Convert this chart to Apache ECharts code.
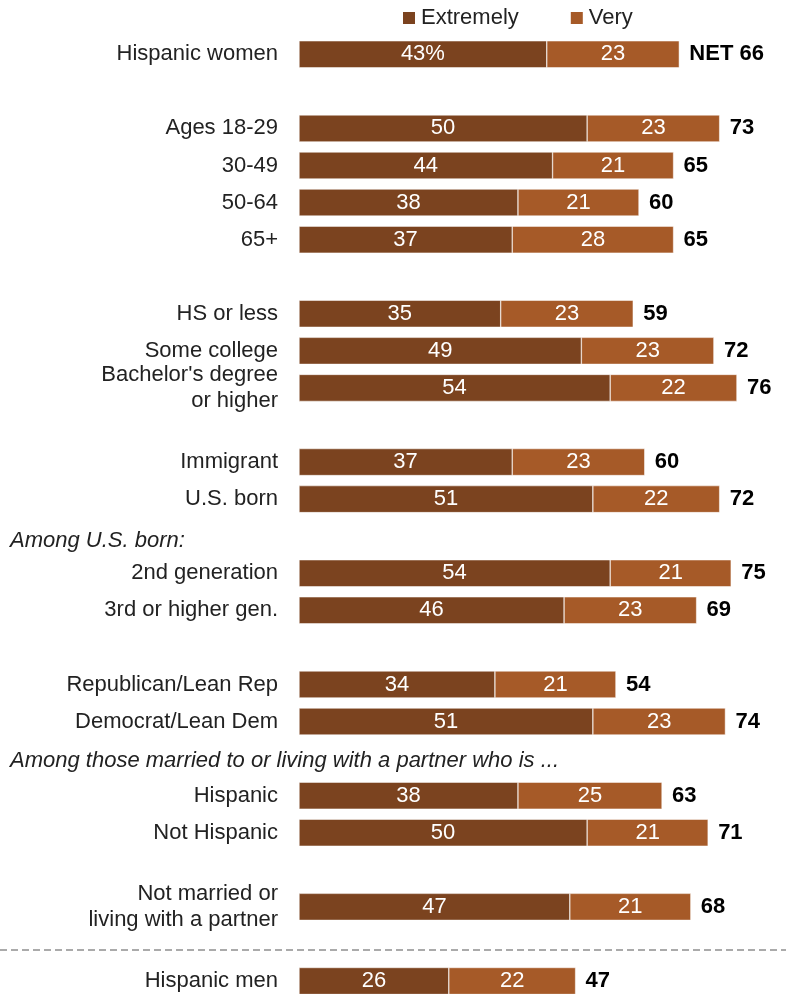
<!DOCTYPE html>
<html>
<head>
<meta charset="utf-8">
<script src="https://cdn.jsdelivr.net/npm/echarts@6/dist/echarts.min.js"></script>
<style>
  html, body { margin: 0; padding: 0; background: #fff; }
  #chart { width: 786px; height: 994px; }
</style>
</head>
<body>
<div id="chart"></div>
<script>
// rows, top to bottom; '' = empty slot (spacer or subheading line)
var categories = [
  'Hispanic women', '',
  'Ages 18-29', '30-49', '50-64', '65+', '',
  'HS or less', 'Some college', "Bachelor's degree\nor higher", '',
  'Immigrant', 'U.S. born', '',
  '2nd generation', '3rd or higher gen.', '',
  'Republican/Lean Rep', 'Democrat/Lean Dem', '',
  'Hispanic', 'Not Hispanic', '',
  'Not married or\nliving with a partner', '',
  'Hispanic men'
];
var extremely = [43, null, 50, 44, 38, 37, null, 35, 49, 54, null, 37, 51, null, 54, 46, null, 34, 51, null, 38, 50, null, 47, null, 26];
var very      = [23, null, 23, 21, 21, 28, null, 23, 23, 22, null, 23, 22, null, 21, 23, null, 21, 23, null, 25, 21, null, 21, null, 22];
var net       = [66, null, 73, 65, 60, 65, null, 59, 72, 76, null, 60, 72, null, 75, 69, null, 54, 74, null, 63, 71, null, 68, null, 47];

var subheads = ['Among U.S. born:', 'Among those married to or living with a partner who is ...'];

var FONT = '"Liberation Sans", Arial, sans-serif';
var DARK = '#7b431f';
var LIGHT = '#a65a28';

var chart = echarts.init(document.getElementById('chart'));

var option = {
  animation: false,
  legend: {
    top: 2,
    left: 396,
    itemWidth: 14,
    itemHeight: 14,
    itemGap: 50,
    icon: 'rect',
    textStyle: { fontFamily: FONT, fontSize: 22, color: '#222' },
    data: ['Extremely', 'Very']
  },
  grid: { left: 299, right: 26, top: 54.3, bottom: 12.3, containLabel: false },
  xAxis: { type: 'value', min: 0, max: 80, show: false },
  yAxis: {
    type: 'category',
    inverse: true,
    boundaryGap: false,
    data: categories,
    axisLine: { show: false },
    axisTick: { show: false },
    axisLabel: {
      margin: 21,
      fontFamily: FONT,
      fontSize: 22,
      color: '#222',
      lineHeight: 26
    }
  },
  series: [
    {
      name: 'Extremely',
      type: 'bar',
      stack: 'a',
      clip: false,
      barWidth: 27,
      itemStyle: { color: DARK, borderColor: '#fff', borderWidth: 0.5 },
      label: {
        show: true,
        position: 'inside',
        color: '#fff',
        fontFamily: FONT,
        fontSize: 22,
        formatter: function (p) { return p.dataIndex === 0 ? p.value + '%' : p.value; }
      },
      data: extremely
    },
    {
      name: 'Very',
      type: 'bar',
      stack: 'a',
      clip: false,
      itemStyle: { color: LIGHT, borderColor: '#fff', borderWidth: 0.5 },
      label: {
        show: true,
        position: 'inside',
        color: '#fff',
        fontFamily: FONT,
        fontSize: 22
      },
      data: very
    },
    {
      name: 'net',
      type: 'bar',
      stack: 'a',
      clip: false,
      silent: true,
      itemStyle: { color: 'transparent' },
      label: {
        show: true,
        position: 'right',
        distance: 10,
        color: '#000',
        fontWeight: 'bold',
        fontFamily: FONT,
        fontSize: 22,
        formatter: function (p) {
          var v = net[p.dataIndex];
          if (v == null) return '';
          return p.dataIndex === 0 ? 'NET ' + v : v;
        }
      },
      data: net.map(function (v) { return v == null ? null : 0; })
    }
  ],
  graphic: [
    {
      type: 'text', x: 10, y: 541,
      style: { text: subheads[0], fontFamily: FONT, fontSize: 22, fontStyle: 'italic', fill: '#222', verticalAlign: 'middle' }
    },
    {
      type: 'text', x: 10, y: 761,
      style: { text: subheads[1], fontFamily: FONT, fontSize: 22, fontStyle: 'italic', fill: '#222', verticalAlign: 'middle' }
    },
    {
      type: 'line',
      shape: { x1: 0, y1: 950, x2: 786, y2: 950 },
      style: { stroke: '#aaa', lineWidth: 2, lineDash: [7, 4] }
    }
  ]
};

chart.setOption(option);
</script>
</body>
</html>
